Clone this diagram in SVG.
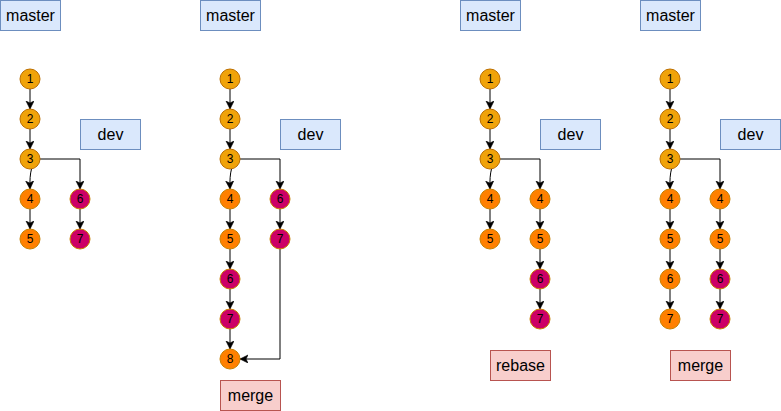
<svg xmlns="http://www.w3.org/2000/svg" width="781" height="411" viewBox="0 0 781 411">
<style>
.lbl{font-family:"Liberation Sans",Arial,sans-serif;font-size:16px;fill:#000;text-anchor:middle;dominant-baseline:central}
.num{font-family:"Liberation Sans",Arial,sans-serif;font-size:12px;fill:#000;text-anchor:middle;dominant-baseline:central}
.blue{fill:#dae8fc;stroke:#6c8ebf;stroke-width:1}
.red{fill:#f8cecc;stroke:#b85450;stroke-width:1}
.g{fill:#f0a30a;stroke:#bd7000;stroke-width:1}
.o{fill:#ff8000;stroke:#c98200;stroke-width:1}
.m{fill:#cc0066;stroke:#c98200;stroke-width:1}
.e{fill:none;stroke:#000;stroke-width:1;marker-end:url(#ah)}
</style>
<defs>
<marker id="ah" markerUnits="userSpaceOnUse" markerWidth="10" markerHeight="10" refX="8" refY="4" orient="auto">
<path d="M0,0 L8,4 L0,8 L2,4 Z" fill="#000" stroke="#000" stroke-width="0.6"/>
</marker>
</defs>
<rect width="781" height="411" fill="#fff"/>
<g id="connectors">
<path class="e" d="M30,89 V109"/>
<path class="e" d="M30,129 V149"/>
<path class="e" d="M31.5,169 Q29.5,176 30,189"/>
<path class="e" d="M30,209 V229"/>
<path class="e" d="M40,159 H80 V189"/>
<path class="e" d="M80,209 V229"/>
<path class="e" d="M230,89 V109"/>
<path class="e" d="M230,129 V149"/>
<path class="e" d="M231.5,169 Q229.5,176 230,189"/>
<path class="e" d="M230,209 V229"/>
<path class="e" d="M230,249 V269"/>
<path class="e" d="M230,289 V309"/>
<path class="e" d="M230,329 V349"/>
<path class="e" d="M240,159 H280 V189"/>
<path class="e" d="M280,209 V229"/>
<path class="e" d="M280,249 V359 H240"/>
<path class="e" d="M490,89 V109"/>
<path class="e" d="M490,129 V149"/>
<path class="e" d="M491.5,169 Q489.5,176 490,189"/>
<path class="e" d="M490,209 V229"/>
<path class="e" d="M500,159 H540 V189"/>
<path class="e" d="M540,209 V229"/>
<path class="e" d="M540,249 V269"/>
<path class="e" d="M540,289 V309"/>
<path class="e" d="M670,89 V109"/>
<path class="e" d="M670,129 V149"/>
<path class="e" d="M671.5,169 Q669.5,176 670,189"/>
<path class="e" d="M670,209 V229"/>
<path class="e" d="M670,249 V269"/>
<path class="e" d="M670,289 V309"/>
<path class="e" d="M680,159 H720 V189"/>
<path class="e" d="M720,209 V229"/>
<path class="e" d="M720,249 V269"/>
<path class="e" d="M720,289 V309"/>
</g>
<g id="master1"><rect class="blue" x="0.5" y="0.5" width="60" height="30"/><text class="lbl" x="30.5" y="15.5">master</text></g>
<g id="dev1"><rect class="blue" x="80.5" y="119.5" width="60" height="30"/><text class="lbl" x="110.5" y="134.5">dev</text></g>
<g id="master2"><rect class="blue" x="200.5" y="0.5" width="60" height="30"/><text class="lbl" x="230.5" y="15.5">master</text></g>
<g id="dev2"><rect class="blue" x="280.5" y="119.5" width="60" height="30"/><text class="lbl" x="310.5" y="134.5">dev</text></g>
<g id="merge2"><rect class="red" x="220.5" y="380.5" width="60" height="30"/><text class="lbl" x="250.5" y="395.5">merge</text></g>
<g id="master3"><rect class="blue" x="460.5" y="0.5" width="60" height="30"/><text class="lbl" x="490.5" y="15.5">master</text></g>
<g id="dev3"><rect class="blue" x="540.5" y="119.5" width="60" height="30"/><text class="lbl" x="570.5" y="134.5">dev</text></g>
<g id="rebase3"><rect class="red" x="490.5" y="350.5" width="60" height="30"/><text class="lbl" x="520.5" y="365.5">rebase</text></g>
<g id="master4"><rect class="blue" x="640.5" y="0.5" width="60" height="30"/><text class="lbl" x="670.5" y="15.5">master</text></g>
<g id="dev4"><rect class="blue" x="720.5" y="119.5" width="60" height="30"/><text class="lbl" x="750.5" y="134.5">dev</text></g>
<g id="merge4"><rect class="red" x="670.5" y="350.5" width="60" height="30"/><text class="lbl" x="700.5" y="365.5">merge</text></g>
<g id="p1c1"><circle class="g" cx="30" cy="79" r="10"/><text class="num" x="30" y="79">1</text></g>
<g id="p1c2"><circle class="g" cx="30" cy="119" r="10"/><text class="num" x="30" y="119">2</text></g>
<g id="p1c3"><circle class="g" cx="30" cy="159" r="10"/><text class="num" x="30" y="159">3</text></g>
<g id="p1c4"><circle class="o" cx="30" cy="199" r="10"/><text class="num" x="30" y="199">4</text></g>
<g id="p1c5"><circle class="o" cx="30" cy="239" r="10"/><text class="num" x="30" y="239">5</text></g>
<g id="p1d6"><circle class="m" cx="80" cy="199" r="10"/><text class="num" x="80" y="199">6</text></g>
<g id="p1d7"><circle class="m" cx="80" cy="239" r="10"/><text class="num" x="80" y="239">7</text></g>
<g id="p2c1"><circle class="g" cx="230" cy="79" r="10"/><text class="num" x="230" y="79">1</text></g>
<g id="p2c2"><circle class="g" cx="230" cy="119" r="10"/><text class="num" x="230" y="119">2</text></g>
<g id="p2c3"><circle class="g" cx="230" cy="159" r="10"/><text class="num" x="230" y="159">3</text></g>
<g id="p2c4"><circle class="o" cx="230" cy="199" r="10"/><text class="num" x="230" y="199">4</text></g>
<g id="p2c5"><circle class="o" cx="230" cy="239" r="10"/><text class="num" x="230" y="239">5</text></g>
<g id="p2c6"><circle class="m" cx="230" cy="279" r="10"/><text class="num" x="230" y="279">6</text></g>
<g id="p2c7"><circle class="m" cx="230" cy="319" r="10"/><text class="num" x="230" y="319">7</text></g>
<g id="p2c8"><circle class="o" cx="230" cy="359" r="10"/><text class="num" x="230" y="359">8</text></g>
<g id="p2d6"><circle class="m" cx="280" cy="199" r="10"/><text class="num" x="280" y="199">6</text></g>
<g id="p2d7"><circle class="m" cx="280" cy="239" r="10"/><text class="num" x="280" y="239">7</text></g>
<g id="p3c1"><circle class="g" cx="490" cy="79" r="10"/><text class="num" x="490" y="79">1</text></g>
<g id="p3c2"><circle class="g" cx="490" cy="119" r="10"/><text class="num" x="490" y="119">2</text></g>
<g id="p3c3"><circle class="g" cx="490" cy="159" r="10"/><text class="num" x="490" y="159">3</text></g>
<g id="p3c4"><circle class="o" cx="490" cy="199" r="10"/><text class="num" x="490" y="199">4</text></g>
<g id="p3c5"><circle class="o" cx="490" cy="239" r="10"/><text class="num" x="490" y="239">5</text></g>
<g id="p3d4"><circle class="o" cx="540" cy="199" r="10"/><text class="num" x="540" y="199">4</text></g>
<g id="p3d5"><circle class="o" cx="540" cy="239" r="10"/><text class="num" x="540" y="239">5</text></g>
<g id="p3d6"><circle class="m" cx="540" cy="279" r="10"/><text class="num" x="540" y="279">6</text></g>
<g id="p3d7"><circle class="m" cx="540" cy="319" r="10"/><text class="num" x="540" y="319">7</text></g>
<g id="p4c1"><circle class="g" cx="670" cy="79" r="10"/><text class="num" x="670" y="79">1</text></g>
<g id="p4c2"><circle class="g" cx="670" cy="119" r="10"/><text class="num" x="670" y="119">2</text></g>
<g id="p4c3"><circle class="g" cx="670" cy="159" r="10"/><text class="num" x="670" y="159">3</text></g>
<g id="p4c4"><circle class="o" cx="670" cy="199" r="10"/><text class="num" x="670" y="199">4</text></g>
<g id="p4c5"><circle class="o" cx="670" cy="239" r="10"/><text class="num" x="670" y="239">5</text></g>
<g id="p4c6"><circle class="o" cx="670" cy="279" r="10"/><text class="num" x="670" y="279">6</text></g>
<g id="p4c7"><circle class="o" cx="670" cy="319" r="10"/><text class="num" x="670" y="319">7</text></g>
<g id="p4d4"><circle class="o" cx="720" cy="199" r="10"/><text class="num" x="720" y="199">4</text></g>
<g id="p4d5"><circle class="o" cx="720" cy="239" r="10"/><text class="num" x="720" y="239">5</text></g>
<g id="p4d6"><circle class="m" cx="720" cy="279" r="10"/><text class="num" x="720" y="279">6</text></g>
<g id="p4d7"><circle class="m" cx="720" cy="319" r="10"/><text class="num" x="720" y="319">7</text></g>
</svg>
